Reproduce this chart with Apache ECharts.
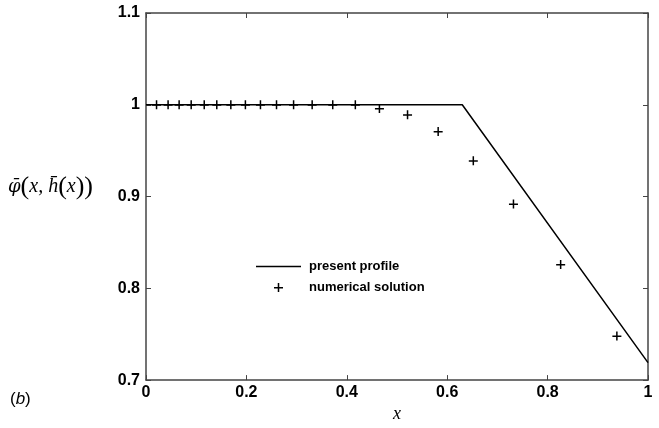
<!DOCTYPE html>
<html>
<head>
<meta charset="utf-8">
<script src="https://cdn.jsdelivr.net/npm/echarts@6/dist/echarts.min.js"></script>
<style>html,body{margin:0;padding:0;background:#fff}#c{width:659px;height:428px}</style>
</head>
<body>
<div id="c"></div>
<script>
// present profile (line)
var profileX = [0, 0.63, 1.0];
var profileY = [1.0, 1.0, 0.719];
// numerical solution (plus markers)
var numX = [0.021, 0.044, 0.066, 0.090, 0.116, 0.141, 0.169, 0.198, 0.228, 0.260, 0.294, 0.331, 0.372, 0.417, 0.465, 0.521, 0.582, 0.652, 0.732, 0.826, 0.938];
var numY = [1.0, 1.0, 1.0, 1.0, 1.0, 1.0, 1.0, 1.0, 1.0, 1.0, 1.0, 1.0, 1.0, 1.0, 0.996, 0.989, 0.971, 0.939, 0.892, 0.826, 0.748];
var seriesNames = ['present profile', 'numerical solution'];
var xTicks = [0, 0.2, 0.4, 0.6, 0.8, 1];
var yTicks = [0.7, 0.8, 0.9, 1, 1.1];

var chart = echarts.init(document.getElementById('c'), null, {renderer: 'canvas'});
var axisColor = '#444';
var tickFont = {color: '#000', fontWeight: 'bold', fontSize: 16, fontFamily: 'Liberation Sans, Arial, sans-serif'};
var plus = 'path://M0,4H9V5.5H0Z M3.75,0H5.25V9H3.75Z';
var lineIcon = 'path://M0,0L0,0M0,3.8H45V5.2H0ZM45,9L45,9';
var plusIcon = 'path://M0,0L0,0M18,4H27V5.5H18ZM21.75,0H23.25V9H21.75ZM45,9L45,9';

function pair(xs, ys) { return xs.map(function (x, i) { return [x, ys[i]]; }); }

var option = {
  animation: false,
  backgroundColor: '#fff',
  grid: {left: 146, right: 11, top: 13, bottom: 40, containLabel: false},
  xAxis: [{
    type: 'value', min: 0, max: 1, interval: 0.2, position: 'bottom',
    axisLine: {show: true, onZero: false, lineStyle: {color: axisColor, width: 1.5}},
    axisTick: {show: true, inside: true, length: 5, lineStyle: {color: axisColor}},
    splitLine: {show: false},
    axisLabel: Object.assign({margin: 4}, tickFont),
    name: 'x', nameLocation: 'middle', nameGap: 19,
    nameTextStyle: {fontFamily: 'Liberation Serif, Times New Roman, serif', fontStyle: 'italic', fontSize: 18, color: '#000'}
  }, {
    type: 'value', min: 0, max: 1, interval: 0.2, position: 'top',
    axisLine: {show: true, onZero: false, lineStyle: {color: axisColor, width: 1.5}},
    axisTick: {show: true, inside: true, length: 5, lineStyle: {color: axisColor}},
    splitLine: {show: false}, axisLabel: {show: false}
  }],
  yAxis: [{
    type: 'value', min: 0.7, max: 1.1, interval: 0.1, position: 'left',
    axisLine: {show: true, onZero: false, lineStyle: {color: axisColor, width: 1.5}},
    axisTick: {show: true, inside: true, length: 5, lineStyle: {color: axisColor}},
    splitLine: {show: false},
    axisLabel: Object.assign({margin: 6, formatter: function (v) { return String(Math.round(v * 10) / 10); }}, tickFont)
  }, {
    type: 'value', min: 0.7, max: 1.1, interval: 0.1, position: 'right',
    axisLine: {show: true, onZero: false, lineStyle: {color: axisColor, width: 1.5}},
    axisTick: {show: true, inside: true, length: 5, lineStyle: {color: axisColor}},
    splitLine: {show: false}, axisLabel: {show: false}
  }],
  legend: {
    orient: 'vertical', left: 251, top: 255, itemWidth: 45, itemHeight: 9, itemGap: 8,
    textStyle: {color: '#000', fontWeight: 'bold', fontSize: 13, fontFamily: 'Liberation Sans, Arial, sans-serif', padding: [0, 0, 0, 3]},
    data: [{name: seriesNames[0], icon: lineIcon, itemStyle: {color: '#000'}},
           {name: seriesNames[1], icon: plusIcon, itemStyle: {color: '#000'}}]
  },
  series: [{
    name: seriesNames[0], type: 'line', data: pair(profileX, profileY),
    symbol: 'none', showSymbol: false,
    lineStyle: {color: '#000', width: 1.5}, itemStyle: {color: '#000'}
  }, {
    name: seriesNames[1], type: 'scatter', data: pair(numX, numY),
    symbol: plus, symbolSize: 9,
    itemStyle: {color: '#000', opacity: 1}
  }],
  graphic: [{
    type: 'text', left: 8, top: 174,
    style: {
      text: '{f|φ\u0304}{p|(}{v|x}{v|, }{v|h\u0304}{p|(}{v|x}{p|))}',
      rich: {
        f: {fontFamily: 'DejaVu Serif, serif', fontStyle: 'italic', fontSize: 18, fill: '#000'},
        v: {fontFamily: 'Liberation Serif, Times New Roman, serif', fontStyle: 'italic', fontSize: 20, fill: '#000'},
        p: {fontFamily: 'Liberation Serif, Times New Roman, serif', fontSize: 26, fill: '#000'}
      }
    }
  }, {
    type: 'text', left: 10, top: 391,
    style: {
      text: '{n|(}{i|b}{n|)}',
      rich: {
        n: {fontFamily: 'Liberation Sans, Arial, sans-serif', fontSize: 17, fill: '#000'},
        i: {fontFamily: 'Liberation Sans, Arial, sans-serif', fontStyle: 'italic', fontSize: 17, fill: '#000'}
      }
    }
  }]
};
chart.setOption(option);
</script>
</body>
</html>
